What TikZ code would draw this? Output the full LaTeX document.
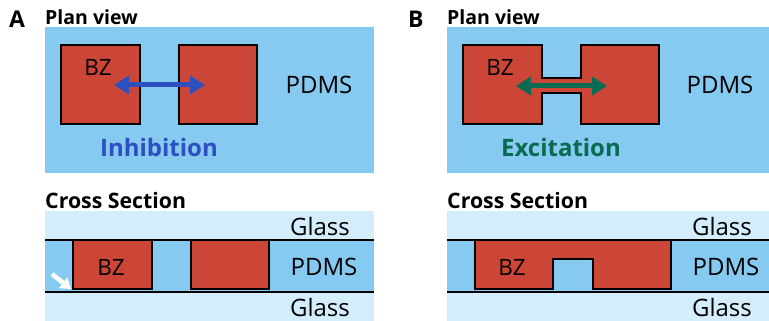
\documentclass[tikz,border=0pt]{standalone}
\usepackage{fontspec}
\setmainfont{Open Sans}
\usetikzlibrary{arrows.meta}
\definecolor{pdms}{HTML}{86C9F1}
\definecolor{glass}{HTML}{D4EDFA}
\definecolor{bz}{HTML}{CC4637}
\definecolor{inhib}{HTML}{2D4FBF}
\definecolor{excit}{HTML}{086B52}
\tikzset{
  lbl/.style={inner sep=0pt, anchor=base, font=\fontsize{24}{28}\selectfont},
  bzlbl/.style={inner sep=0pt, anchor=base, font=\fontsize{22.5}{26}\selectfont},
  title/.style={inner sep=0pt, anchor=base west, font=\bfseries\fontsize{19.5}{24}\selectfont},
  cstitle/.style={inner sep=0pt, anchor=base west, font=\bfseries\fontsize{21.3}{24}\selectfont},
  panel/.style={inner sep=0pt, anchor=base west, font=\bfseries\fontsize{23}{26}\selectfont},
  effect/.style={inner sep=0pt, anchor=base, font=\bfseries\fontsize{24}{28}\selectfont},
  bzbox/.style={fill=bz, draw=black, line width=1.5pt},
  layerline/.style={draw=black, line width=1.5pt},
  dbl/.style={line width=5pt, {Triangle[length=15pt,width=18pt]}-{Triangle[length=15pt,width=18pt]}},
}
\begin{document}
\begin{tikzpicture}[x=1pt,y=-1pt]
\useasboundingbox (0,0) rectangle (769,321);
% ---------- Panel A plan ----------
\node[panel] (labA) at (9,28) {A};
\node[title] (planA) at (45,25) {Plan view};
\fill[pdms] (45,27) rectangle (374,173);
\draw[bzbox] (61,45) rectangle (140,124);
\draw[bzbox] (179,45) rectangle (257,124);
\node[bzlbl] (bzA) at (98,76) {BZ};
\node[lbl] (pdmsA) at (319,93) {PDMS};
\node[effect, text=inhib] (inh) at (159,157) {Inhibition};
\coordinate (a1) at (114,85);
\coordinate (a2) at (205,85);
\draw[dbl, draw=inhib, fill=inhib] (a1) -- (a2);
% ---------- Panel B plan ----------
\node[panel] (labB) at (408,28) {B};
\node[title] (planB) at (447,25) {Plan view};
\fill[pdms] (447,27) rectangle (769,173);
\draw[bzbox] (463,45) -- (542,45) -- (542,78) -- (581,78) -- (581,45) -- (659,45)
  -- (659,124) -- (581,124) -- (581,93) -- (542,93) -- (542,124) -- (463,124) -- cycle;
\node[bzlbl] (bzB) at (500,76) {BZ};
\node[lbl] (pdmsB) at (720,93) {PDMS};
\node[effect, text=excit] (exc) at (561,157) {Excitation};
\coordinate (b1) at (516,86);
\coordinate (b2) at (607,86);
\draw[dbl, draw=excit, fill=excit] (b1) -- (b2);
% ---------- Panel A cross section ----------
\node[cstitle] (csA) at (45,208) {Cross Section};
\fill[glass] (45,211) rectangle (374,240);
\fill[pdms] (45,240) rectangle (374,292);
\fill[glass] (45,292) rectangle (374,321);
\draw[layerline] (45,240) -- (374,240);
\draw[layerline] (45,292) -- (374,292);
\draw[bzbox] (73,240) rectangle (152,289);
\draw[bzbox] (191,240) rectangle (269,289);
\node[bzlbl] (bzcA) at (111,275) {BZ};
\node[lbl] (gtA) at (320,235) {Glass};
\node[lbl] (pcA) at (324,275) {PDMS};
\node[lbl] (gbA) at (320,316) {Glass};
\coordinate (w1) at (52,274);
\coordinate (w2) at (71,289);
\draw[white, fill=white, line width=4.5pt, -{Triangle[length=10pt,width=13pt]}] (w1) -- (w2);
% ---------- Panel B cross section ----------
\node[cstitle] (csB) at (447,208) {Cross Section};
\fill[glass] (447,211) rectangle (769,240);
\fill[pdms] (447,240) rectangle (769,292);
\fill[glass] (447,292) rectangle (769,321);
\draw[layerline] (447,240) -- (769,240);
\draw[layerline] (447,292) -- (769,292);
\draw[bzbox] (475,240) -- (671,240) -- (671,289) -- (593,289) -- (593,259) -- (553,259)
  -- (553,289) -- (475,289) -- cycle;
\node[bzlbl] (bzcB) at (512,275) {BZ};
\node[lbl] (gtB) at (722,235) {Glass};
\node[lbl] (pcB) at (726,275) {PDMS};
\node[lbl] (gbB) at (722,316) {Glass};
\end{tikzpicture}
\end{document}
